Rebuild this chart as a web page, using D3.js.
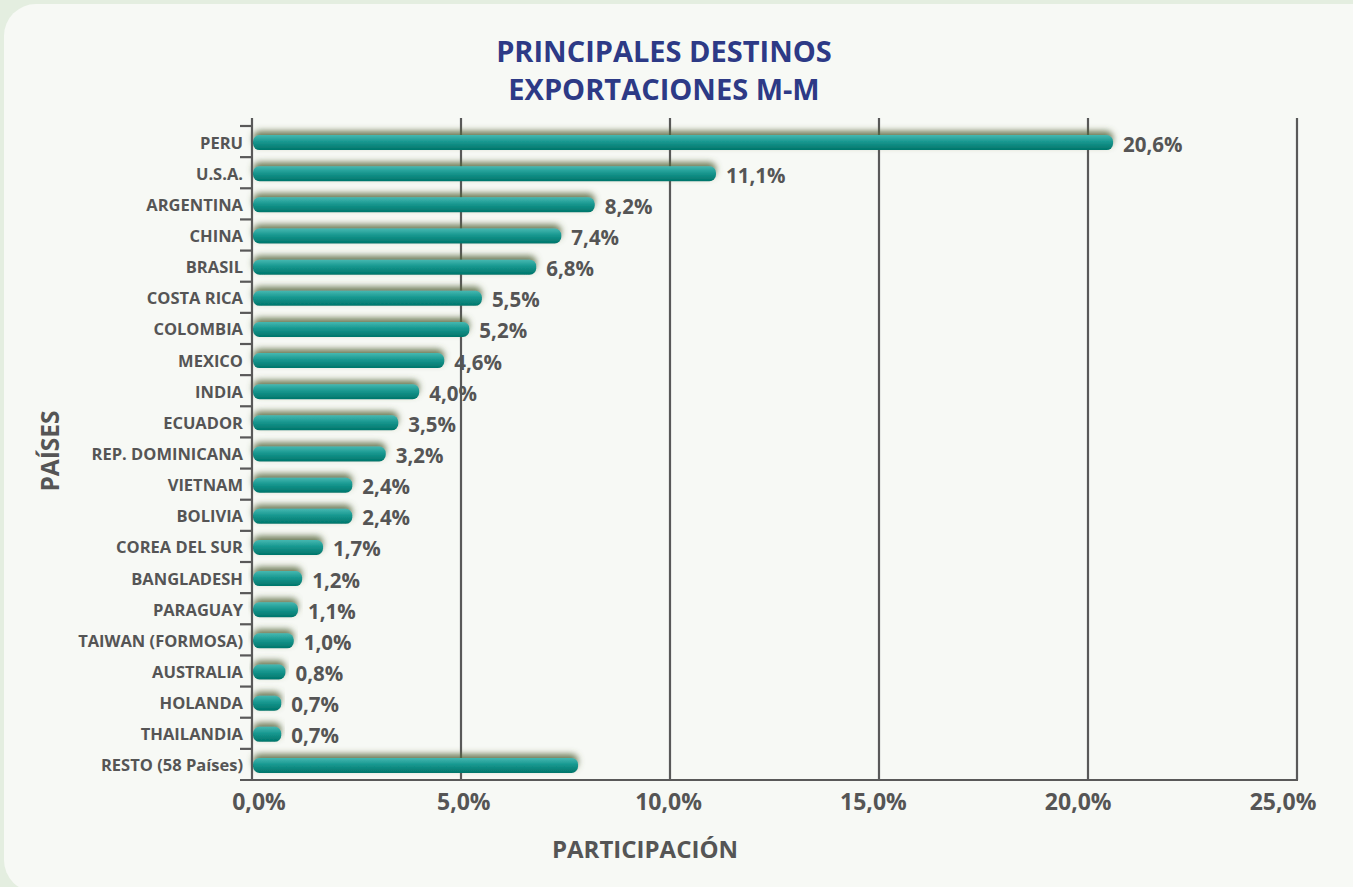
<!DOCTYPE html>
<html><head><meta charset="utf-8">
<script src="https://cdn.jsdelivr.net/npm/d3@7"></script>
<style>
html,body{margin:0;padding:0;background:#e7efe3;}
svg{display:block;}
text{font-family:"Open Sans",sans-serif;font-weight:700;}
</style></head>
<body>
<svg id="chart" width="1353" height="887"></svg>
<script>
const countries = ["PERU","U.S.A.","ARGENTINA","CHINA","BRASIL","COSTA RICA","COLOMBIA","MEXICO","INDIA","ECUADOR","REP. DOMINICANA","VIETNAM","BOLIVIA","COREA DEL SUR","BANGLADESH","PARAGUAY","TAIWAN (FORMOSA)","AUSTRALIA","HOLANDA","THAILANDIA","RESTO (58 Países)"];
const shares = [20.6,11.1,8.2,7.4,6.8,5.5,5.2,4.6,4.0,3.5,3.2,2.4,2.4,1.7,1.2,1.1,1.0,0.8,0.7,0.7,7.8];
const showLabel = [true,true,true,true,true,true,true,true,true,true,true,true,true,true,true,true,true,true,true,true,false];
const xTicks = [0,5,10,15,20,25];
const titleLines = ["PRINCIPALES DESTINOS","EXPORTACIONES M-M"];
const xTitle = "PARTICIPACIÓN";
const yTitle = "PAÍSES";

const svg = d3.select("#chart");
const defs = svg.append("defs");
const grad = defs.append("linearGradient").attr("id","barGrad").attr("x1",0).attr("y1",0).attr("x2",0).attr("y2",1);
grad.append("stop").attr("offset","0%").attr("stop-color","#45b8b1");
grad.append("stop").attr("offset","45%").attr("stop-color","#17978f");
grad.append("stop").attr("offset","100%").attr("stop-color","#00756a");
const f = defs.append("filter").attr("id","shadow").attr("x","-10%").attr("y","-100%").attr("width","120%").attr("height","300%");
f.append("feGaussianBlur").attr("in","SourceAlpha").attr("stdDeviation",3).attr("result","b");
f.append("feOffset").attr("in","b").attr("dx",0).attr("dy",-4).attr("result","o");
f.append("feFlood").attr("flood-color","#56663c").attr("flood-opacity",0.85).attr("result","c");
f.append("feComposite").attr("in","c").attr("in2","o").attr("operator","in").attr("result","s");
const m = f.append("feMerge");
m.append("feMergeNode").attr("in","s");
m.append("feMergeNode").attr("in","SourceGraphic");

// panel background
svg.append("rect").attr("x",0).attr("y",0).attr("width",1353).attr("height",887).attr("fill","#e4eee0");
svg.append("rect").attr("x",4).attr("y",4).attr("width",1400).attr("height",888).attr("rx",32).attr("fill","#f7f9f5");

const x = d3.scaleLinear().domain([0,25]).range([252,1297]);
const xl = d3.scaleLinear().domain([0,25]).range([259,1283]);
const y = d3.scaleBand().domain(countries).range([126,780]).paddingInner(0);

// gridlines
svg.append("g").selectAll("line").data(xTicks.slice(1)).join("line")
  .attr("x1",d=>x(d)).attr("x2",d=>x(d)).attr("y1",118).attr("y2",780)
  .attr("stroke","#595959").attr("stroke-width",2.2);

// bars
const bh = 15;
svg.append("g").selectAll("rect").data(countries).join("rect")
  .attr("x",x(0)+1).attr("y",(d)=>y(d)+y.bandwidth()/2-bh/2+1)
  .attr("width",(d,i)=>x(shares[i])-x(0)-1).attr("height",bh)
  .attr("rx",6.5).attr("fill","url(#barGrad)").attr("filter","url(#shadow)");

// y axis
svg.append("line").attr("x1",x(0)).attr("x2",x(0)).attr("y1",118).attr("y2",781)
  .attr("stroke","#595959").attr("stroke-width",2.2);
// bottom axis
svg.append("line").attr("x1",240).attr("x2",x(25)+1).attr("y1",780).attr("y2",780)
  .attr("stroke","#595959").attr("stroke-width",2.2);
// y tick marks at band boundaries
svg.append("g").selectAll("line").data(countries).join("line")
  .attr("x1",240).attr("x2",x(0)).attr("y1",d=>y(d)).attr("y2",d=>y(d))
  .attr("stroke","#595959").attr("stroke-width",2.2);

// category labels
svg.append("g").selectAll("text").data(countries).join("text")
  .attr("x",243).attr("y",d=>y(d)+y.bandwidth()/2+7)
  .attr("text-anchor","end").attr("font-size",16.5).attr("fill","#555555")
  .text(d=>d);

// value labels
svg.append("g").selectAll("text").data(countries.filter((d,i)=>showLabel[i])).join("text")
  .attr("x",(d)=>x(shares[countries.indexOf(d)])+10)
  .attr("y",d=>y(d)+y.bandwidth()/2+10)
  .attr("font-size",20.5).attr("fill","#555555")
  .text(d=>shares[countries.indexOf(d)].toFixed(1).replace(".",",")+"%");

// x tick labels
svg.append("g").selectAll("text").data(xTicks).join("text")
  .attr("x",d=>xl(d)).attr("y",810).attr("text-anchor","middle")
  .attr("font-size",23).attr("fill","#555555")
  .text(d=>d.toFixed(1).replace(".",",")+"%");

// titles
svg.append("g").selectAll("text").data(titleLines).join("text")
  .attr("x",664).attr("y",(d,i)=>62+i*38).attr("text-anchor","middle")
  .attr("font-size",29).attr("fill","#2d3a86").text(d=>d);
svg.append("text").attr("x",645).attr("y",858).attr("text-anchor","middle")
  .attr("font-size",24).attr("fill","#555555").text(xTitle);
svg.append("text").attr("transform","translate(59,451) rotate(-90)").attr("text-anchor","middle")
  .attr("font-size",24.5).attr("fill","#555555").text(yTitle);
</script>
</body></html>
